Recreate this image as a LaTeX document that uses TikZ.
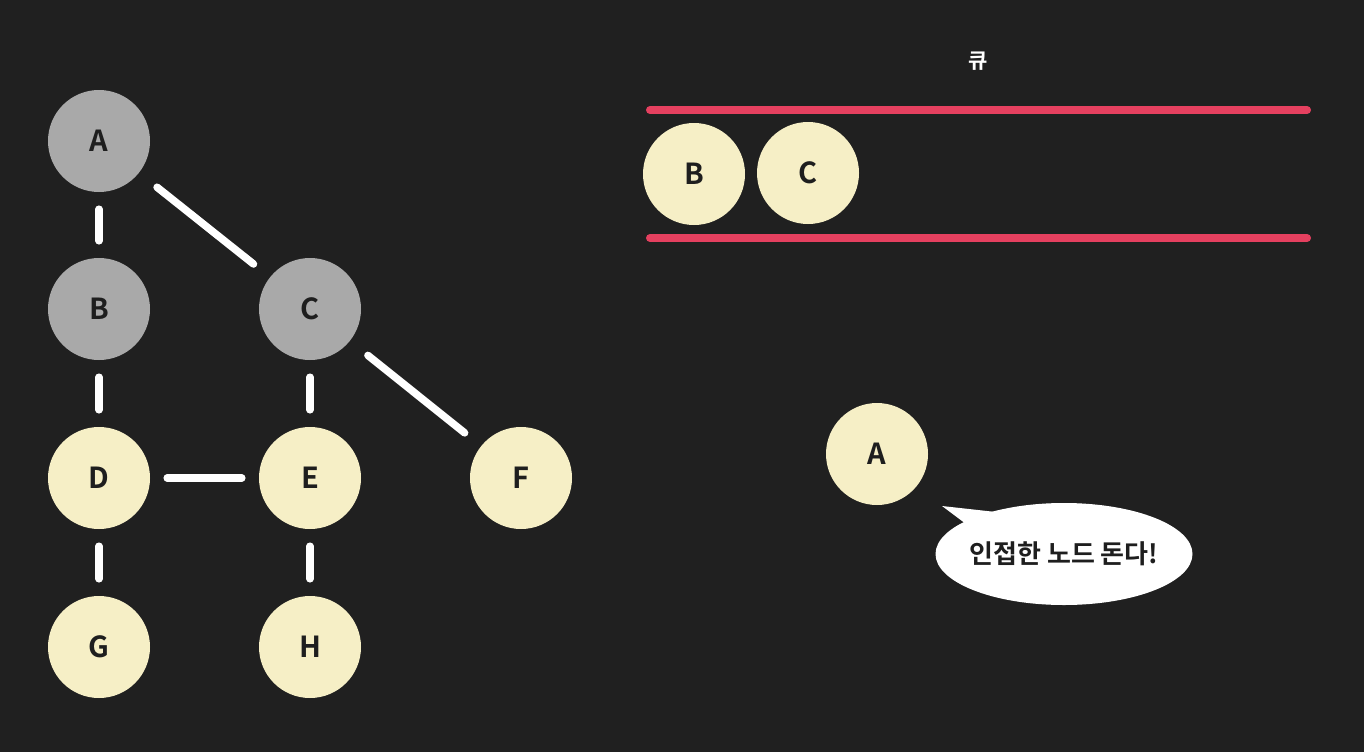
\documentclass[tikz,border=0pt]{standalone}
\usepackage{fontspec}
\setmainfont{Noto Sans CJK KR}[BoldFont={Noto Sans CJK KR Bold}]
\usetikzlibrary{shapes.geometric}
\definecolor{bg}{HTML}{202020}
\definecolor{visited}{HTML}{A9A9A9}
\definecolor{cream}{HTML}{F6EFC6}
\definecolor{qred}{HTML}{E5405F}
\definecolor{ink}{HTML}{1E1E1E}
\tikzset{
  vnode/.style={circle,minimum size=102pt,inner sep=0pt,text=ink,font=\fontsize{29}{34}\selectfont\bfseries},
  gray/.style={vnode,fill=visited},
  yel/.style={vnode,fill=cream},
  edge/.style={draw=white,line width=7.5pt,line cap=round,shorten <=17pt,shorten >=17pt},
  qline/.style={draw=qred,line width=8pt,line cap=round}
}
\begin{document}
\begin{tikzpicture}[x=1pt,y=-1pt]
\fill[bg] (0,0) rectangle (1364,752);
\useasboundingbox (0,0) rectangle (1364,752);
% graph
\node[gray] (A) at (99,141) {A};
\node[gray] (B) at (99,309) {B};
\node[gray] (C) at (310,309) {C};
\node[yel] (D) at (99,478) {D};
\node[yel] (E) at (310,478) {E};
\node[yel] (F) at (521,478) {F};
\node[yel] (G) at (99,647) {G};
\node[yel] (H) at (310,647) {H};
\draw[edge] (A) -- (B);
\draw[edge,shorten <=23pt,shorten >=21pt] (A) -- (C);
\draw[edge] (B) -- (D);
\draw[edge] (C) -- (E);
\draw[edge,shorten <=23pt,shorten >=21pt] (C) -- (F);
\draw[edge] (D) -- (E);
\draw[edge] (D) -- (G);
\draw[edge] (E) -- (H);
% queue
\node[text=white,font=\fontsize{21}{25}\selectfont\bfseries] (qlabel) at (978,61) {큐};
\coordinate (q1a) at (650,110);
\coordinate (q1b) at (1307,110);
\coordinate (q2a) at (650,238);
\coordinate (q2b) at (1307,238);
\draw[qline] (q1a) -- (q1b);
\draw[qline] (q2a) -- (q2b);
\node[yel] (QB) at (694,174) {B};
\node[yel] (QC) at (808,173) {C};
% current node
\node[yel] (cur) at (877,454) {A};
% speech bubble
\fill[white] (942,506) -- (966,524) -- (996,512) -- cycle;
\node[ellipse,fill=white,minimum width=257pt,minimum height=102pt,inner sep=0pt] (bubble) at (1064,554) {};
\node[text=ink,font=\fontsize{26}{31}\selectfont\bfseries] (btext) at (bubble.center) {인접한 노드 돈다!};
\end{tikzpicture}
\end{document}
